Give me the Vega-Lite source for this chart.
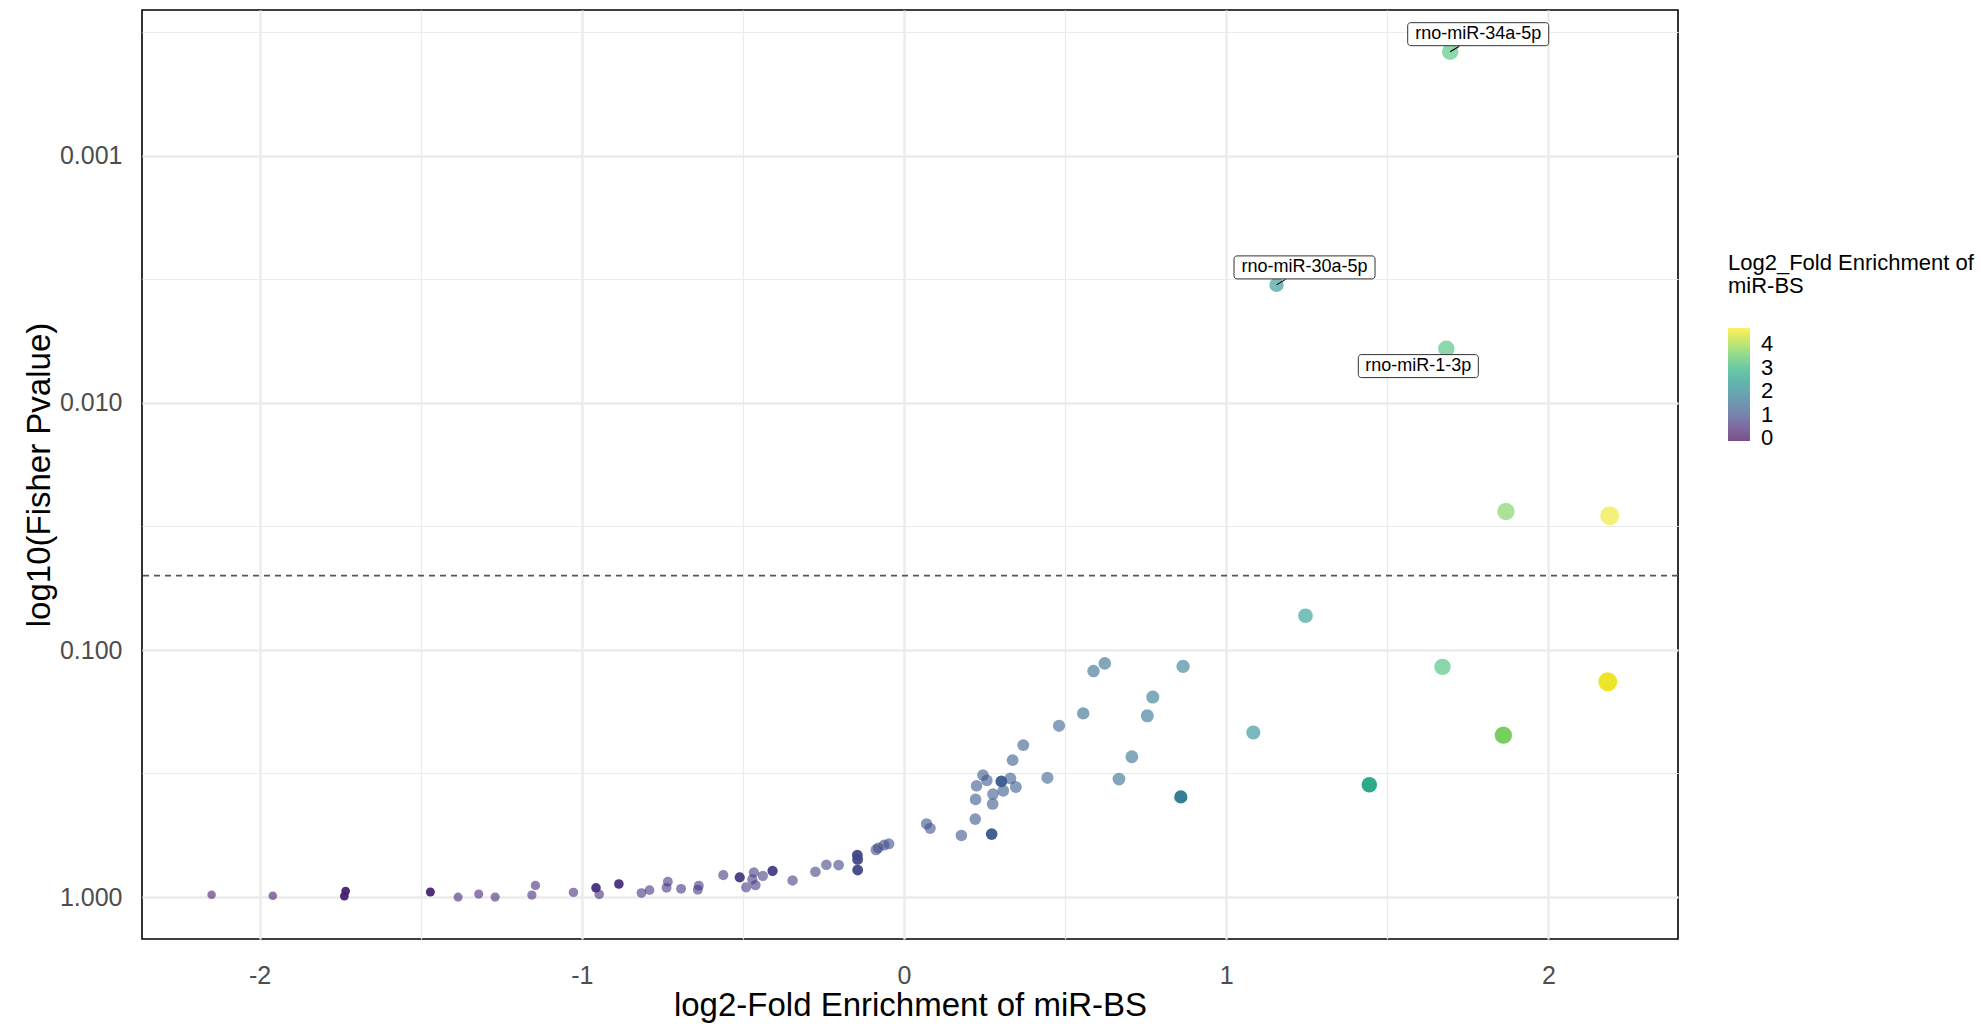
{
  "$schema": "https://vega.github.io/schema/vega-lite/v6.json",
  "width": 1536,
  "height": 929,
  "autosize": {"type": "none"},
  "padding": {"left": 142, "top": 10, "right": 303, "bottom": 85},
  "background": "white",
  "config": {
    "font": "Liberation Sans",
    "view": {"stroke": "black", "strokeWidth": 1.6},
    "axis": {
      "domain": false,
      "ticks": false,
      "tickSize": 0,
      "gridColor": "#ebebeb",
      "labelColor": "#4d4d4d",
      "labelFontSize": 25,
      "titleFontSize": 33,
      "titleFontWeight": "normal",
      "titleColor": "black"
    }
  },
  "data": {
    "values": [
      {"log2FE": -2.149, "pvalue": 0.979, "FE": 0.2253, "weight": 0, "label": ""},
      {"log2FE": -1.959, "pvalue": 0.988, "FE": 0.2571, "weight": 0, "label": ""},
      {"log2FE": -1.733, "pvalue": 0.945, "FE": 0.3008, "weight": 1, "label": ""},
      {"log2FE": -1.737, "pvalue": 0.99, "FE": 0.3, "weight": 1, "label": ""},
      {"log2FE": -1.47, "pvalue": 0.954, "FE": 0.361, "weight": 1, "label": ""},
      {"log2FE": -1.384, "pvalue": 1.0, "FE": 0.3834, "weight": 0, "label": ""},
      {"log2FE": -1.32, "pvalue": 0.972, "FE": 0.4005, "weight": 0, "label": ""},
      {"log2FE": -1.269, "pvalue": 1.0, "FE": 0.4149, "weight": 0, "label": ""},
      {"log2FE": -1.155, "pvalue": 0.981, "FE": 0.4489, "weight": 0, "label": ""},
      {"log2FE": -1.144, "pvalue": 0.897, "FE": 0.4523, "weight": 0, "label": ""},
      {"log2FE": -1.026, "pvalue": 0.957, "FE": 0.491, "weight": 0, "label": ""},
      {"log2FE": -0.956, "pvalue": 0.917, "FE": 0.5154, "weight": 1, "label": ""},
      {"log2FE": -0.946, "pvalue": 0.975, "FE": 0.519, "weight": 0, "label": ""},
      {"log2FE": -0.885, "pvalue": 0.885, "FE": 0.5414, "weight": 1, "label": ""},
      {"log2FE": -0.815, "pvalue": 0.963, "FE": 0.5688, "weight": 0, "label": ""},
      {"log2FE": -0.79, "pvalue": 0.937, "FE": 0.578, "weight": 0, "label": ""},
      {"log2FE": -0.737, "pvalue": 0.917, "FE": 0.6, "weight": 0, "label": ""},
      {"log2FE": -0.733, "pvalue": 0.867, "FE": 0.602, "weight": 0, "label": ""},
      {"log2FE": -0.692, "pvalue": 0.926, "FE": 0.619, "weight": 0, "label": ""},
      {"log2FE": -0.64, "pvalue": 0.934, "FE": 0.642, "weight": 0, "label": ""},
      {"log2FE": -0.637, "pvalue": 0.9, "FE": 0.643, "weight": 0, "label": ""},
      {"log2FE": -0.561, "pvalue": 0.815, "FE": 0.678, "weight": 0, "label": ""},
      {"log2FE": -0.51, "pvalue": 0.832, "FE": 0.702, "weight": 1, "label": ""},
      {"log2FE": -0.49, "pvalue": 0.913, "FE": 0.712, "weight": 0, "label": ""},
      {"log2FE": -0.461, "pvalue": 0.894, "FE": 0.726, "weight": 0, "label": ""},
      {"log2FE": -0.471, "pvalue": 0.848, "FE": 0.721, "weight": 0, "label": ""},
      {"log2FE": -0.466, "pvalue": 0.795, "FE": 0.724, "weight": 0, "label": ""},
      {"log2FE": -0.438, "pvalue": 0.82, "FE": 0.738, "weight": 0, "label": ""},
      {"log2FE": -0.408, "pvalue": 0.783, "FE": 0.754, "weight": 1, "label": ""},
      {"log2FE": -0.346, "pvalue": 0.856, "FE": 0.787, "weight": 0, "label": ""},
      {"log2FE": -0.275, "pvalue": 0.79, "FE": 0.826, "weight": 0, "label": ""},
      {"log2FE": -0.241, "pvalue": 0.74, "FE": 0.846, "weight": 0, "label": ""},
      {"log2FE": -0.203, "pvalue": 0.742, "FE": 0.869, "weight": 0, "label": ""},
      {"log2FE": -0.144, "pvalue": 0.777, "FE": 0.905, "weight": 1, "label": ""},
      {"log2FE": -0.144, "pvalue": 0.704, "FE": 0.905, "weight": 1, "label": ""},
      {"log2FE": -0.145, "pvalue": 0.676, "FE": 0.904, "weight": 1, "label": ""},
      {"log2FE": -0.087, "pvalue": 0.6435, "FE": 0.942, "weight": 0, "label": ""},
      {"log2FE": -0.08, "pvalue": 0.632, "FE": 0.946, "weight": 0, "label": ""},
      {"log2FE": -0.062, "pvalue": 0.616, "FE": 0.958, "weight": 0, "label": ""},
      {"log2FE": -0.047, "pvalue": 0.6085, "FE": 0.968, "weight": 0, "label": ""},
      {"log2FE": 0.07, "pvalue": 0.505, "FE": 1.05, "weight": 0, "label": ""},
      {"log2FE": 0.081, "pvalue": 0.527, "FE": 1.058, "weight": 0, "label": ""},
      {"log2FE": 0.178, "pvalue": 0.5628, "FE": 1.131, "weight": 0, "label": ""},
      {"log2FE": 0.221, "pvalue": 0.4834, "FE": 1.166, "weight": 0, "label": ""},
      {"log2FE": 0.222, "pvalue": 0.4024, "FE": 1.166, "weight": 0, "label": ""},
      {"log2FE": 0.225, "pvalue": 0.3545, "FE": 1.169, "weight": 0, "label": ""},
      {"log2FE": 0.245, "pvalue": 0.321, "FE": 1.185, "weight": 0, "label": ""},
      {"log2FE": 0.257, "pvalue": 0.337, "FE": 1.195, "weight": 0, "label": ""},
      {"log2FE": 0.272, "pvalue": 0.556, "FE": 1.207, "weight": 1, "label": ""},
      {"log2FE": 0.275, "pvalue": 0.42, "FE": 1.21, "weight": 0, "label": ""},
      {"log2FE": 0.276, "pvalue": 0.383, "FE": 1.211, "weight": 0, "label": ""},
      {"log2FE": 0.302, "pvalue": 0.34, "FE": 1.233, "weight": 1, "label": ""},
      {"log2FE": 0.308, "pvalue": 0.3713, "FE": 1.238, "weight": 0, "label": ""},
      {"log2FE": 0.33, "pvalue": 0.331, "FE": 1.257, "weight": 0, "label": ""},
      {"log2FE": 0.337, "pvalue": 0.279, "FE": 1.263, "weight": 0, "label": ""},
      {"log2FE": 0.347, "pvalue": 0.3587, "FE": 1.272, "weight": 0, "label": ""},
      {"log2FE": 0.37, "pvalue": 0.2426, "FE": 1.292, "weight": 0, "label": ""},
      {"log2FE": 0.445, "pvalue": 0.329, "FE": 1.361, "weight": 0, "label": ""},
      {"log2FE": 0.481, "pvalue": 0.2026, "FE": 1.396, "weight": 0, "label": ""},
      {"log2FE": 0.556, "pvalue": 0.1805, "FE": 1.47, "weight": 0, "label": ""},
      {"log2FE": 0.588, "pvalue": 0.1217, "FE": 1.503, "weight": 0, "label": ""},
      {"log2FE": 0.623, "pvalue": 0.1133, "FE": 1.54, "weight": 0, "label": ""},
      {"log2FE": 0.667, "pvalue": 0.333, "FE": 1.588, "weight": 0, "label": ""},
      {"log2FE": 0.707, "pvalue": 0.2705, "FE": 1.632, "weight": 0, "label": ""},
      {"log2FE": 0.755, "pvalue": 0.1846, "FE": 1.688, "weight": 0, "label": ""},
      {"log2FE": 0.772, "pvalue": 0.155, "FE": 1.708, "weight": 0, "label": ""},
      {"log2FE": 0.859, "pvalue": 0.393, "FE": 1.814, "weight": 1, "label": ""},
      {"log2FE": 0.866, "pvalue": 0.1165, "FE": 1.823, "weight": 0, "label": ""},
      {"log2FE": 1.084, "pvalue": 0.2156, "FE": 2.12, "weight": 0, "label": ""},
      {"log2FE": 1.246, "pvalue": 0.0727, "FE": 2.372, "weight": 0, "label": ""},
      {"log2FE": 1.444, "pvalue": 0.3512, "FE": 2.721, "weight": 1, "label": ""},
      {"log2FE": 1.671, "pvalue": 0.117, "FE": 3.184, "weight": 0, "label": ""},
      {"log2FE": 1.86, "pvalue": 0.2211, "FE": 3.63, "weight": 1, "label": ""},
      {"log2FE": 1.868, "pvalue": 0.0275, "FE": 3.65, "weight": 0, "label": ""},
      {"log2FE": 2.184, "pvalue": 0.1345, "FE": 4.544, "weight": 1, "label": ""},
      {"log2FE": 2.19, "pvalue": 0.0286, "FE": 4.563, "weight": 0, "label": ""},
      {"log2FE": 1.695, "pvalue": 0.000379, "FE": 3.238, "weight": 0, "label": "rno-miR-34a-5p"},
      {"log2FE": 1.156, "pvalue": 0.00333, "FE": 2.228, "weight": 0, "label": "rno-miR-30a-5p"},
      {"log2FE": 1.683, "pvalue": 0.00604, "FE": 3.211, "weight": 0, "label": "rno-miR-1-3p"}
    ]
  },
  "layer": [
    {
      "mark": {"type": "circle", "strokeWidth": 0},
      "encoding": {
        "x": {
          "field": "log2FE",
          "type": "quantitative",
          "scale": {"domain": [-2.365, 2.402], "nice": false, "zero": false},
          "axis": {
            "title": "log2-Fold Enrichment of miR-BS",
            "values": [-2, -1.5, -1, -0.5, 0, 0.5, 1, 1.5, 2],
            "labelExpr": "datum.value % 1 == 0 ? '' + datum.value : ''",
            "gridWidth": {"condition": {"test": "datum.value % 1 == 0", "value": 2.4}, "value": 1.2},
            "labelPadding": 24,
            "titleY": 76,
            "titleBaseline": "alphabetic"
          }
        },
        "y": {
          "field": "pvalue",
          "type": "quantitative",
          "scale": {"type": "log", "domain": [0.000257, 1.4776], "reverse": true, "nice": false},
          "axis": {
            "title": "log10(Fisher Pvalue)",
            "values": [0.000316, 0.001, 0.00316, 0.01, 0.0316, 0.1, 0.316, 1],
            "labelExpr": "abs(log(datum.value)/LN10 - round(log(datum.value)/LN10)) < 0.01 ? format(datum.value, '.3f') : ''",
            "gridWidth": {"condition": {"test": "abs(log(datum.value)/LN10 - round(log(datum.value)/LN10)) < 0.01", "value": 2.4}, "value": 1.2},
            "labelPadding": 20,
            "titleX": -103,
            "titleY": 464.5,
            "titleAngle": -90,
            "titleAlign": "center",
            "titleBaseline": "middle"
          }
        },
        "color": {
          "field": "FE",
          "type": "quantitative",
          "scale": {"scheme": "viridis", "domain": [-0.11, 4.68]},
          "legend": {
            "title": ["Log2_Fold Enrichment of", "miR-BS"],
            "orient": "none",
            "legendX": 1586,
            "legendY": 243.4,
            "direction": "vertical",
            "gradientLength": 113,
            "gradientThickness": 22,
            "gradientStrokeWidth": 0,
            "values": [0, 1, 2, 3, 4],
            "labelFontSize": 22,
            "labelColor": "black",
            "labelOffset": 11,
            "titleFontSize": 22,
            "titleFontWeight": "normal",
            "titleColor": "black",
            "titleLineHeight": 22.6,
            "titlePadding": 30,
            "titleLimit": 400,
            "padding": 0,
            "encode": {"gradient": {"update": {"opacity": {"value": 0.6}}}}
          }
        },
        "size": {"field": "FE", "type": "quantitative", "scale": {"domain": [0.2254, 4.563], "range": [72, 361]}, "legend": null},
        "opacity": {"field": "weight", "type": "quantitative", "scale": {"domain": [0, 1], "range": [0.6, 0.95]}, "legend": null}
      }
    },
    {
      "data": {"values": [{"threshold": 0.05}]},
      "mark": {"type": "rule", "color": "#555555", "strokeWidth": 1.8, "strokeDash": [6, 5]},
      "encoding": {
        "y": {"field": "threshold", "type": "quantitative", "title": "log10(Fisher Pvalue)"}
      }
    },
    {
      "transform": [{"filter": "datum.label == 'rno-miR-34a-5p' || datum.label == 'rno-miR-30a-5p'"}],
      "mark": {"type": "rule", "color": "black", "strokeWidth": 1.1, "x2Offset": 9, "y2Offset": -5.5},
      "encoding": {
        "x": {"field": "log2FE", "type": "quantitative", "title": "log2-Fold Enrichment of miR-BS"},
        "y": {"field": "pvalue", "type": "quantitative", "title": "log10(Fisher Pvalue)"},
        "x2": {"field": "log2FE"},
        "y2": {"field": "pvalue"}
      }
    },
    {
      "transform": [{"filter": "datum.label == 'rno-miR-34a-5p' || datum.label == 'rno-miR-30a-5p'"}],
      "mark": {"type": "rect", "width": 141, "height": 23, "xOffset": 28, "yOffset": -17.5, "fill": "white", "stroke": "#333333", "strokeWidth": 1, "cornerRadius": 3},
      "encoding": {
        "x": {"field": "log2FE", "type": "quantitative", "title": "log2-Fold Enrichment of miR-BS"},
        "y": {"field": "pvalue", "type": "quantitative", "title": "log10(Fisher Pvalue)"}
      }
    },
    {
      "transform": [{"filter": "datum.label == 'rno-miR-1-3p'"}],
      "mark": {"type": "rect", "width": 120, "height": 23, "xOffset": -28, "yOffset": 17.3, "fill": "white", "stroke": "#333333", "strokeWidth": 1, "cornerRadius": 3},
      "encoding": {
        "x": {"field": "log2FE", "type": "quantitative", "title": "log2-Fold Enrichment of miR-BS"},
        "y": {"field": "pvalue", "type": "quantitative", "title": "log10(Fisher Pvalue)"}
      }
    },
    {
      "transform": [{"filter": "datum.label == 'rno-miR-34a-5p' || datum.label == 'rno-miR-30a-5p'"}],
      "mark": {"type": "text", "dx": 28, "dy": -17.5, "fontSize": 18, "align": "center", "baseline": "middle", "color": "black"},
      "encoding": {
        "x": {"field": "log2FE", "type": "quantitative", "title": "log2-Fold Enrichment of miR-BS"},
        "y": {"field": "pvalue", "type": "quantitative", "title": "log10(Fisher Pvalue)"},
        "text": {"field": "label"}
      }
    },
    {
      "transform": [{"filter": "datum.label == 'rno-miR-1-3p'"}],
      "mark": {"type": "text", "dx": -28, "dy": 17.3, "fontSize": 18, "align": "center", "baseline": "middle", "color": "black"},
      "encoding": {
        "x": {"field": "log2FE", "type": "quantitative", "title": "log2-Fold Enrichment of miR-BS"},
        "y": {"field": "pvalue", "type": "quantitative", "title": "log10(Fisher Pvalue)"},
        "text": {"field": "label"}
      }
    }
  ]
}
